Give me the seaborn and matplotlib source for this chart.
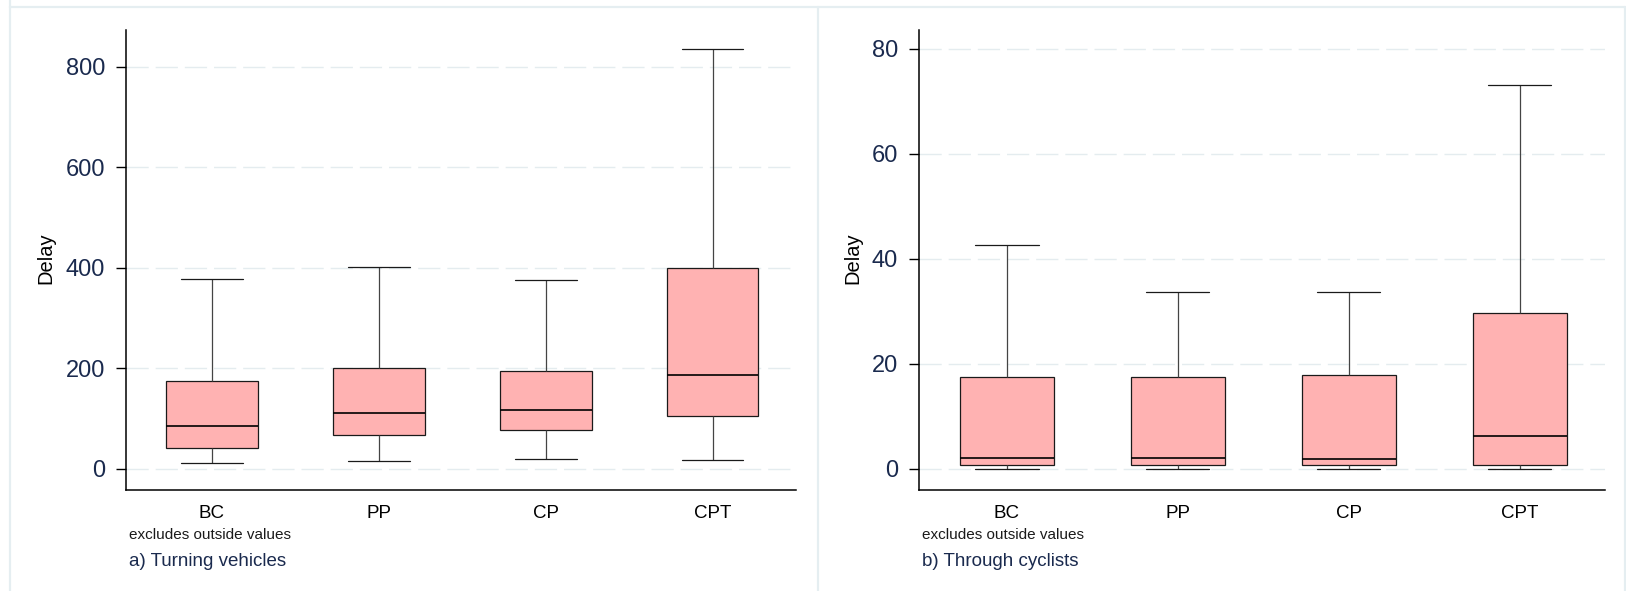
import numpy as np
import pandas as pd
import matplotlib
matplotlib.use("Agg")
import matplotlib.pyplot as plt
from matplotlib.lines import Line2D
import seaborn as sns

# ---- data (five-number summaries; outside values excluded) ----
categories = ["BC", "PP", "CP", "CPT"]

turning_low = [12, 16, 20, 17]
turning_q1 = [42, 68, 77, 106]
turning_median = [86, 111, 117, 187]
turning_q3 = [175, 201, 195, 400]
turning_high = [379, 402, 377, 836]

cyclist_low = [0, 0, 0, 0]
cyclist_q1 = [0.7, 0.7, 0.7, 0.7]
cyclist_median = [2.1, 2.1, 1.9, 6.3]
cyclist_q3 = [17.5, 17.6, 17.9, 29.7]
cyclist_high = [42.6, 33.8, 33.8, 73.1]

y_ticks_a = [0, 200, 400, 600, 800]
y_ticks_b = [0, 20, 40, 60, 80]
panel_titles = ["a) Turning vehicles", "b) Through cyclists"]
note_text = "excludes outside values"
y_label = "Delay"


def frame(lows, q1s, meds, q3s, highs):
    rows = []
    for c, a, b, m, d, e in zip(categories, lows, q1s, meds, q3s, highs):
        for v in (a, b, m, d, e):
            rows.append({"group": c, "Delay": v})
    return pd.DataFrame(rows)


df_a = frame(turning_low, turning_q1, turning_median, turning_q3, turning_high)
df_b = frame(cyclist_low, cyclist_q1, cyclist_median, cyclist_q3, cyclist_high)

sns.set_theme(style="white")
plt.rcParams["font.family"] = ["Liberation Sans", "DejaVu Sans"]

W, H = 1626, 591
fig = plt.figure(figsize=(W / 100, H / 100), dpi=100)
fig.patch.set_facecolor("white")

# panel frames (Stata graph combine style)
frame_col = "#e5eef1"
for xs, ys in [([10, 10], [-5, 7]), ([10, 1625], [7, 7]), ([818, 818], [7, 600]),
               ([1625, 1625], [7, 600]), ([10, 10], [7, 600])]:
    fig.add_artist(Line2D([x / W for x in xs], [1 - y / H for y in ys],
                          color=frame_col, lw=1.6, transform=fig.transFigure))

navy = "#1a2a4e"
box_fill = "#ffb2b2"

axes_spec = [
    (df_a, 126, 796, (-41.8, 873.6), y_ticks_a, panel_titles[0], -0.106),
    (df_b, 919, 1605, (-4.0, 83.6), y_ticks_b, panel_titles[1], -0.083),
]
top_px, bot_px = 30, 490

for df, left, right, ylim, yt, title, lab_x in axes_spec:
    ax = fig.add_axes([left / W, 1 - bot_px / H, (right - left) / W, (bot_px - top_px) / H])
    ax.set_facecolor("white")
    ax.yaxis.grid(True, color="#e4ecef", lw=1.0, linestyle=(0, (16, 5)))
    ax.set_axisbelow(True)
    sns.boxplot(
        data=df, x="group", y="Delay", order=categories, ax=ax,
        whis=(0, 100), width=0.55, color=box_fill, saturation=1,
        linecolor="#1a1a1a", linewidth=0.9, capwidths=0.37,
        whiskerprops={"color": "#444444"},
        medianprops={"color": "#000000", "linewidth": 1.2},
    )
    ax.set_xlim(-0.515, 3.5)
    ax.set_ylim(*ylim)
    ax.set_yticks(yt)
    ax.set_yticklabels([str(t) for t in yt], color=navy, fontsize=17)
    ax.tick_params(axis="y", length=7, width=1, color="#000000", pad=8, left=True)
    ax.tick_params(axis="x", length=0, pad=11, labelsize=13.5, labelcolor="#000000")
    ax.set_xlabel("")
    ax.set_ylabel(y_label, fontsize=14.5, color="#000000")
    ax.yaxis.set_label_coords(lab_x, 0.504)
    for s in ["top", "right"]:
        ax.spines[s].set_visible(False)
    for s in ["left", "bottom"]:
        ax.spines[s].set_color("#000000")
        ax.spines[s].set_linewidth(1.1)
    fig.text((left + 3) / W, 1 - 535 / H, note_text, fontsize=11, color="#1a1a1a",
             ha="left", va="center")
    fig.text((left + 3) / W, 1 - 561 / H, title, fontsize=13.5, color=navy,
             ha="left", va="center")

fig.savefig("out.png", dpi=100, facecolor="white")
